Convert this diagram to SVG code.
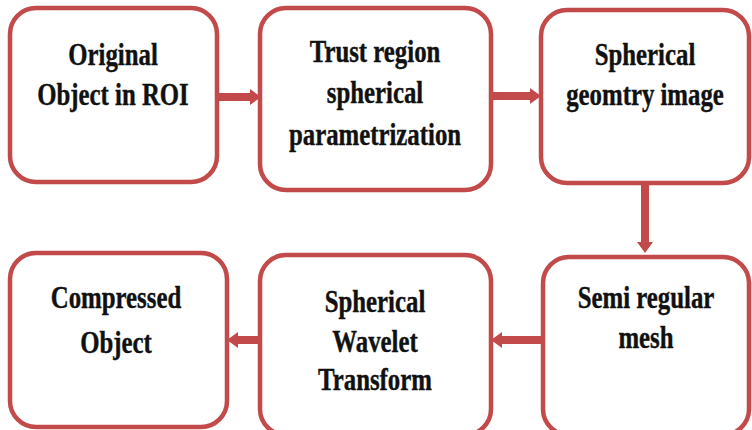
<svg xmlns="http://www.w3.org/2000/svg" width="752" height="430" viewBox="0 0 752 430">
<style>
.box{fill:#fff;stroke:#c24a4a;stroke-width:4.5}
.t{font-family:"Liberation Serif","Times New Roman","DejaVu Serif",serif;font-weight:bold;font-size:31px;fill:#111;stroke:#111;stroke-width:0.4;text-anchor:middle}
.sh{stroke:#c24a4a;stroke-width:8;fill:none}
.hd{fill:#c24a4a}
</style>
<rect width="752" height="430" fill="#fff"/>
<g id="connectors">
<path class="sh" d="M217 97H252"/><path class="hd" d="M250 89L261 97L250 105Z"/>
<path class="sh" d="M491 96H532"/><path class="hd" d="M530 88L541 96L530 104Z"/>
<path class="sh" d="M645 183V244"/><path class="hd" d="M637 242L645 253L653 242Z"/>
<path class="sh" d="M543 340H500"/><path class="hd" d="M502 332L491 340L502 348Z"/>
<path class="sh" d="M260 340H236"/><path class="hd" d="M238 332L227 340L238 348Z"/>
</g>
<g id="n1"><rect class="box" x="10" y="8" width="207" height="174" rx="26"/>
<text class="t" transform="translate(113,65) scale(0.8,1)">Original</text>
<text class="t" transform="translate(113,105) scale(0.8,1)">Object in ROI</text></g>
<g id="n2"><rect class="box" x="260" y="8" width="231" height="182" rx="26"/>
<text class="t" transform="translate(375,62) scale(0.8,1)">Trust region</text>
<text class="t" transform="translate(375,103) scale(0.8,1)">spherical</text>
<text class="t" transform="translate(375,145) scale(0.8,1)">parametrization</text></g>
<g id="n3"><rect class="box" x="541" y="10" width="208" height="173" rx="26"/>
<text class="t" transform="translate(645,65) scale(0.8,1)">Spherical</text>
<text class="t" transform="translate(645,105) scale(0.8,1)">geomtry image</text></g>
<g id="n4"><rect class="box" x="10" y="253" width="217" height="174" rx="26"/>
<text class="t" transform="translate(116,308) scale(0.8,1)">Compressed</text>
<text class="t" transform="translate(116,353) scale(0.8,1)">Object</text></g>
<g id="n5"><rect class="box" x="260" y="255" width="231" height="180" rx="26"/>
<text class="t" transform="translate(375,312) scale(0.8,1)">Spherical</text>
<text class="t" transform="translate(375,352) scale(0.8,1)">Wavelet</text>
<text class="t" transform="translate(375,390) scale(0.8,1)">Transform</text></g>
<g id="n6"><rect class="box" x="543" y="257" width="206" height="178" rx="26"/>
<text class="t" transform="translate(646,308) scale(0.8,1)">Semi regular</text>
<text class="t" transform="translate(646,348) scale(0.8,1)">mesh</text></g>
</svg>
